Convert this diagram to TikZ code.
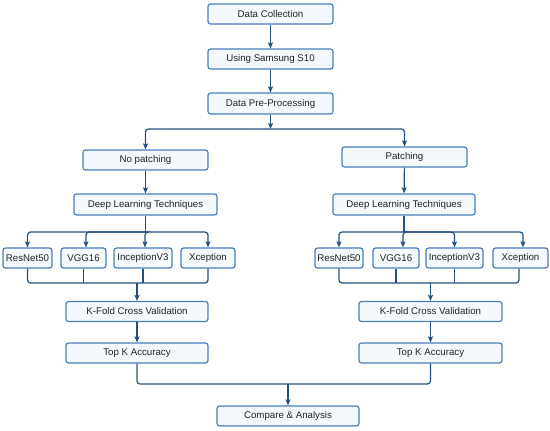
\documentclass[tikz,border=0pt]{standalone}
\usepackage{fontspec}
\setmainfont{Liberation Sans}
\usetikzlibrary{arrows.meta}
\definecolor{bordc}{HTML}{4A7EBB}
\definecolor{fillc}{HTML}{F5F9FE}
\definecolor{arrc}{HTML}{24507F}
\definecolor{txtc}{HTML}{222222}
\begin{document}
\begin{tikzpicture}[x=1pt,y=-1pt,
  boxst/.style={draw=bordc, fill=fillc, line width=1.2pt, rounded corners=2.5pt,
    inner sep=0pt, minimum height=20pt, text=txtc,
    font=\fontsize{9.7}{11}\selectfont},
  ln/.style={draw=arrc, line width=1.2pt, rounded corners=3pt},
  arr/.style={ln, -{Stealth[length=6pt,width=5pt,inset=1.2pt]}}]
\useasboundingbox (0,0) rectangle (550,431);
% top column
\node[boxst, minimum width=125pt] (dc) at (270.5,14) {Data Collection};
\node[boxst, minimum width=125pt] (us) at (270.5,59) {Using Samsung S10};
\node[boxst, minimum width=125pt, minimum height=21pt] (dp) at (270.5,103.5) {Data Pre-Processing};
\coordinate (split) at (270.5,129);
% second level
\node[boxst, minimum width=125pt] (np) at (145.5,160) {No patching};
\node[boxst, minimum width=125pt] (pa) at (404.5,157) {Patching};
\node[boxst, minimum width=143pt, minimum height=21pt] (dlL) at (145.5,204.5) {Deep Learning Techniques};
\node[boxst, minimum width=142pt, minimum height=21pt] (dlR) at (404,204.5) {Deep Learning Techniques};
\coordinate (bL) at (145.5,232);
\coordinate (bR) at (404,232);
% models left
\node[boxst, minimum width=49pt] (rnL) at (27.5,258) {ResNet50};
\node[boxst, minimum width=45pt] (vgL) at (83.5,258) {VGG16};
\node[boxst, minimum width=58pt] (inL) at (143,258) {InceptionV3};
\node[boxst, minimum width=54pt] (xcL) at (208,258) {Xception};
% models right
\node[boxst, minimum width=48pt] (rnR) at (339,258) {ResNet50};
\node[boxst, minimum width=46pt] (vgR) at (396,258) {VGG16};
\node[boxst, minimum width=57pt] (inR) at (454.5,258) {InceptionV3};
\node[boxst, minimum width=55pt] (xcR) at (520.5,258) {Xception};
\coordinate (mL) at (137,283);
\coordinate (mR) at (430.5,283);
% lower
\node[boxst, minimum width=142pt] (kfL) at (137,311.5) {K-Fold Cross Validation};
\node[boxst, minimum width=143pt] (kfR) at (430.5,311.5) {K-Fold Cross Validation};
\node[boxst, minimum width=142pt] (tkL) at (137,353) {Top K Accuracy};
\node[boxst, minimum width=143pt] (tkR) at (430.5,353) {Top K Accuracy};
\coordinate (mB) at (288,384);
\node[boxst, minimum width=142pt] (ca) at (288,416) {Compare \& Analysis};
% connectors
\draw[arr] (dc) -- (us);
\draw[arr] (us) -- (dp);
\draw[arr] (dp) -- (split);
\draw[arr] (split) -| (np.north);
\draw[arr] (split) -| (pa.north);
\draw[arr] (np) -- (dlL);
\draw[arr] (pa) -- (dlR);
\draw[ln] (dlL) -- (bL);
\draw[ln] (dlR) -- (bR);
\draw[arr] (bL) -| (rnL.north);
\draw[arr] (bL) -| ([xshift=2.5pt]vgL.north);
\draw[arr] (bL) -| ([xshift=2pt]inL.north);
\draw[arr] (bL) -| (xcL.north);
\draw[arr] (bR) -| (rnR.north);
\draw[arr] (bR) -| ([xshift=7pt]vgR.north);
\draw[arr] (bR) -| (inR.north);
\draw[arr] (bR) -| ([xshift=2.5pt]xcR.north);
\draw[ln] (rnL.south) |- (mL) -| (xcL.south);
\draw[ln] (vgL.south) -- (vgL.south |- mL);
\draw[ln] (inL.south) -- (inL.south |- mL);
\draw[arr] (mL) -- (kfL);
\draw[ln] (rnR.south) |- (mR) -| ([xshift=-1.5pt]xcR.south);
\draw[ln] (vgR.south) -- (vgR.south |- mR);
\draw[ln] (inR.south) -- (inR.south |- mR);
\draw[arr] (mR) -- (kfR);
\draw[arr] (kfL) -- (tkL);
\draw[arr] (kfR) -- (tkR);
\draw[ln] (tkL.south) |- (mB) -| (tkR.south);
\draw[arr] (mB) -- (ca);
\end{tikzpicture}
\end{document}
